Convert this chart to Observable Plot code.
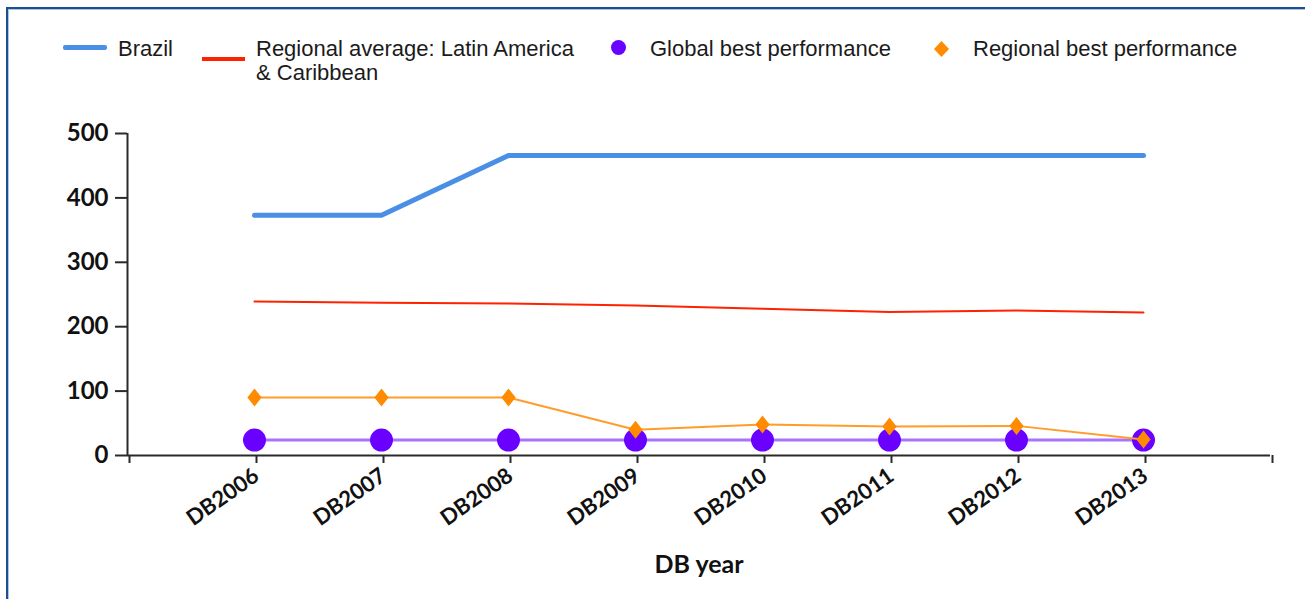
<!DOCTYPE html>
<html>
<head>
<meta charset="utf-8">
<script src="https://cdn.jsdelivr.net/npm/d3@7"></script>
<script src="https://cdn.jsdelivr.net/npm/@observablehq/plot@0.6"></script>
<style>
  html, body { margin: 0; padding: 0; background: #fff; }
  body { width: 1305px; height: 599px; overflow: hidden; position: relative; font-family: "Liberation Sans", Arial, sans-serif; }
  #frame { position: absolute; left: 6px; top: 7px; right: -10px; bottom: -10px;
           border-top: 2px solid #1d4f8c; border-left: 2px solid #1d4f8c;
           box-shadow: inset 1px 1px 0 #a9c6e8; pointer-events: none; }
  #legend { position: relative; height: 100px; width: 1305px; }
  .lg { position: absolute; font-size: 22px; line-height: 24px; color: #1b1b1b; white-space: nowrap; }
  .sw { position: absolute; }
  #chart { position: absolute; left: 0; top: 100px; }
</style>
</head>
<body>
<div id="frame"></div>
<div id="legend"></div>
<div id="chart"></div>
<script>
// ---- data ----
const years = ["DB2006", "DB2007", "DB2008", "DB2009", "DB2010", "DB2011", "DB2012", "DB2013"];
const brazil = [373, 373, 466, 466, 466, 466, 466, 466];
const regionalAverage = [239, 237, 236, 233, 228, 223, 225, 222];
const globalBest = [24, 24, 24, 24, 24, 24, 24, 24];
const regionalBest = [90, 90, 90, 40, 48, 45, 46, 25];
const yTicks = [0, 100, 200, 300, 400, 500];
const seriesNames = ["Brazil", "Regional average: Latin America\n& Caribbean", "Global best performance", "Regional best performance"];
const xTitle = ["DB year"];

const colors = { brazil: "#4a8fe6", avg: "#ff2200", globalDot: "#6a00ff", globalLine: "#a873ff", regDot: "#ff8c00", regLine: "#ff9c2a" };

const rows = (vals) => years.map((y, i) => ({ i: i + 1, year: y, v: vals[i] }));

// custom diamond a bit taller than wide
const tallDiamond = {
  draw(ctx, size) {
    const r = Math.sqrt(size / Math.PI);
    const w = r * 0.95, h = r * 1.2;
    ctx.moveTo(0, -h); ctx.lineTo(w, 0); ctx.lineTo(0, h); ctx.lineTo(-w, 0); ctx.closePath();
  }
};

const boldFont = "Lato, 'Liberation Sans', sans-serif";

const chart = Plot.plot({
  width: 1305,
  height: 499,
  marginLeft: 127,
  marginRight: 35,
  marginTop: 33,
  marginBottom: 144,
  style: { background: "transparent", fontFamily: boldFont, color: "#111", overflow: "visible" },
  x: { type: "linear", domain: [0, years.length + 1] },
  y: { domain: [0, 500] },
  marks: [
    Plot.ruleX([0], { stroke: "#2a2a2a", strokeWidth: 2 }),
    Plot.ruleY([0], { stroke: "#2a2a2a", strokeWidth: 2 }),
    Plot.axisY({ ticks: yTicks, tickSize: 12, tickPadding: 7, fontSize: 24, fontWeight: "bold", stroke: "#2a2a2a", strokeWidth: 2, label: null }),
    Plot.axisX({ ticks: d3.range(0, years.length + 2), tickFormat: (d) => years[d - 1] ?? "", tickSize: 8, tickRotate: -35, tickPadding: 10, dx: 2, fontSize: 22, fontWeight: "bold", stroke: "#2a2a2a", strokeWidth: 2, label: null }),
    Plot.text(xTitle, { frameAnchor: "bottom", dy: 117, fontSize: 25, fontWeight: "bold", fill: "#111" }),
    Plot.line(rows(brazil), { x: "i", y: "v", stroke: colors.brazil, strokeWidth: 5, strokeLinejoin: "round", strokeLinecap: "round" }),
    Plot.line(rows(regionalAverage), { x: "i", y: "v", stroke: colors.avg, strokeWidth: 2 }),
    Plot.line(rows(globalBest), { x: "i", y: "v", stroke: colors.globalLine, strokeWidth: 3 }),
    Plot.dot(rows(globalBest), { x: "i", y: "v", r: 11.5, fill: colors.globalDot, stroke: null }),
    Plot.line(rows(regionalBest), { x: "i", y: "v", stroke: colors.regLine, strokeWidth: 2 }),
    Plot.dot(rows(regionalBest), { x: "i", y: "v", r: 7.5, symbol: tallDiamond, fill: colors.regDot, stroke: null })
  ]
});
document.getElementById("chart").appendChild(chart);

// ---- legend (HTML) ----
const legend = document.getElementById("legend");
function add(tag, cls, styles, html) {
  const el = document.createElement(tag);
  el.className = cls;
  Object.assign(el.style, styles);
  if (html != null) el.innerHTML = html;
  legend.appendChild(el);
  return el;
}
add("div", "sw", { left: "63px", top: "45px", width: "44px", height: "5px", background: colors.brazil, borderRadius: "2px" });
add("div", "lg", { left: "118px", top: "37px" }, seriesNames[0]);
add("div", "sw", { left: "202px", top: "57px", width: "43px", height: "4px", background: colors.avg });
add("div", "lg", { left: "256px", top: "37px" }, seriesNames[1].replace("\n", "<br>"));
add("div", "sw", { left: "611px", top: "40px", width: "15px", height: "15px", background: colors.globalDot, borderRadius: "50%" });
add("div", "lg", { left: "650px", top: "37px" }, seriesNames[2]);
add("div", "sw", { left: "934px", top: "41px", width: "15px", height: "16px" },
  `<svg width="15" height="16" viewBox="0 0 15 16"><polygon points="7.5,0 15,8 7.5,16 0,8" fill="${colors.regDot}"/></svg>`);
add("div", "lg", { left: "973px", top: "37px" }, seriesNames[3]);
</script>
</body>
</html>
